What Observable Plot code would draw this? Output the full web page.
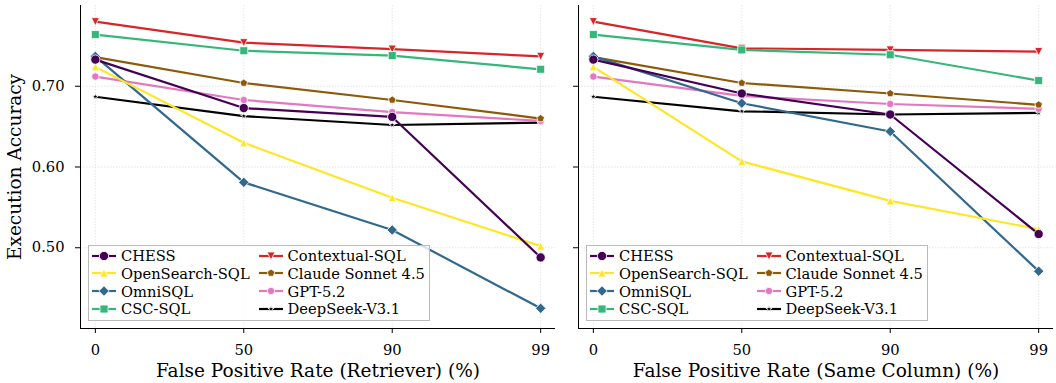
<!DOCTYPE html>
<html><head><meta charset="utf-8">
<script src="https://cdn.jsdelivr.net/npm/d3@7"></script>
<script src="https://cdn.jsdelivr.net/npm/@observablehq/plot@0.6"></script>
<style>
html,body{margin:0;padding:0;background:#fff;}
#chart{position:relative;width:1056px;height:383px;font-family:"DejaVu Serif",serif;overflow:hidden;}
.panel{position:absolute;top:0;}
.legend{position:absolute;border:1px solid #bbb;background:rgba(255,255,255,0.8);box-sizing:border-box;}
.item{position:absolute;height:18px;display:flex;align-items:center;font-size:14.7px;color:#000;white-space:nowrap;}
.item svg{margin-right:5px;overflow:visible;}
</style></head><body><div id="chart"></div>
<script>
// ---------- data ----------
const xTickLabels = ["0", "50", "90", "99"];
const seriesNames = ["CHESS", "OpenSearch-SQL", "OmniSQL", "CSC-SQL", "Contextual-SQL", "Claude Sonnet 4.5", "GPT-5.2", "DeepSeek-V3.1"];
const yTicks = [0.5, 0.6, 0.7];

// Panel 1: False Positive Rate (Retriever)
const retrieverCHESS      = [0.733, 0.673, 0.662, 0.488];
const retrieverOpenSearch = [0.724, 0.630, 0.562, 0.502];
const retrieverOmniSQL    = [0.737, 0.581, 0.522, 0.425];
const retrieverCSC        = [0.764, 0.744, 0.738, 0.721];
const retrieverContextual = [0.780, 0.754, 0.746, 0.737];
const retrieverClaude     = [0.736, 0.704, 0.683, 0.660];
const retrieverGPT        = [0.712, 0.683, 0.668, 0.657];
const retrieverDeepSeek   = [0.687, 0.663, 0.652, 0.655];

// Panel 2: False Positive Rate (Same Column)
const sameColCHESS      = [0.733, 0.691, 0.665, 0.517];
const sameColOpenSearch = [0.724, 0.607, 0.558, 0.523];
const sameColOmniSQL    = [0.737, 0.679, 0.644, 0.471];
const sameColCSC        = [0.764, 0.745, 0.739, 0.707];
const sameColContextual = [0.780, 0.747, 0.745, 0.743];
const sameColClaude     = [0.736, 0.704, 0.691, 0.677];
const sameColGPT        = [0.712, 0.688, 0.678, 0.672];
const sameColDeepSeek   = [0.687, 0.669, 0.665, 0.667];

const panelTitles = ["False Positive Rate (Retriever) (%)", "False Positive Rate (Same Column) (%)"];
const yTitle = "Execution Accuracy";

// ---------- styles ----------
const seriesColors = ["#440154", "#fde725", "#31688e", "#35b779", "#d62728", "#8c5a0a", "#e377c2", "#000000"];

const rad = s => Math.sqrt(s / Math.PI);
const symCircle = {draw(c, s){const r = rad(s); c.moveTo(r, 0); c.arc(0, 0, r, 0, 2 * Math.PI);}};
const symTriUp = {draw(c, s){const r = rad(s); c.moveTo(0, -r); c.lineTo(r, r); c.lineTo(-r, r); c.closePath();}};
const symTriDown = {draw(c, s){const r = rad(s); c.moveTo(0, r); c.lineTo(r, -r); c.lineTo(-r, -r); c.closePath();}};
const symDiamond = {draw(c, s){const r = rad(s); c.moveTo(0, -r); c.lineTo(r, 0); c.lineTo(0, r); c.lineTo(-r, 0); c.closePath();}};
const symSquare = {draw(c, s){const r = rad(s); c.rect(-r, -r, 2 * r, 2 * r);}};
const symPentagon = {draw(c, s){const r = rad(s); for (let i = 0; i < 5; i++){const a = -Math.PI / 2 + i * 2 * Math.PI / 5; i ? c.lineTo(r * Math.cos(a), r * Math.sin(a)) : c.moveTo(r * Math.cos(a), r * Math.sin(a));} c.closePath();}};
const symStar = {draw(c, s){const r = rad(s); for (let i = 0; i < 10; i++){const rr = i % 2 ? r * 0.382 : r; const a = -Math.PI / 2 + i * Math.PI / 5; i ? c.lineTo(rr * Math.cos(a), rr * Math.sin(a)) : c.moveTo(rr * Math.cos(a), rr * Math.sin(a));} c.closePath();}};
const seriesSymbols = [symCircle, symTriUp, symDiamond, symSquare, symTriDown, symPentagon, symCircle, symStar];
const seriesRadii = [4.6, 4.0, 5.2, 4.0, 4.0, 4.0, 3.7, 3.4];
const drawOrder = [7, 6, 5, 4, 3, 2, 1, 0];

const panelValues = [
  [retrieverCHESS, retrieverOpenSearch, retrieverOmniSQL, retrieverCSC, retrieverContextual, retrieverClaude, retrieverGPT, retrieverDeepSeek],
  [sameColCHESS, sameColOpenSearch, sameColOmniSQL, sameColCSC, sameColContextual, sameColClaude, sameColGPT, sameColDeepSeek]
];

const chart = document.getElementById("chart");
const panelGeom = [
  {left: 0, width: 556, marginLeft: 80, marginRight: 1},
  {left: 556, width: 500, marginLeft: 22, marginRight: 3}
];
const gridStyle = {stroke: "#c8c8c8", strokeOpacity: 0.6, strokeDasharray: "1.5,1.5", strokeWidth: 0.8};

panelGeom.forEach((g, p) => {
  const marks = [
    Plot.gridY({ticks: yTicks, ...gridStyle}),
    Plot.gridX({ticks: [0, 1, 2, 3], ...gridStyle})
  ];
  for (const k of drawOrder) {
    const data = panelValues[p][k].map((v, i) => ({i, v}));
    marks.push(Plot.line(data, {x: "i", y: "v", stroke: seriesColors[k], strokeWidth: 2.2}));
    marks.push(Plot.dot(data, {x: "i", y: "v", symbol: seriesSymbols[k], r: seriesRadii[k], fill: seriesColors[k], stroke: "white", strokeWidth: 0.8}));
  }
  marks.push(
    Plot.ruleX([-0.1], {stroke: "#000", strokeWidth: 1}),
    Plot.ruleY([0.40], {stroke: "#000", strokeWidth: 1}),
    Plot.axisX({ticks: [0, 1, 2, 3], tickFormat: i => xTickLabels[i], tickSize: 5, tickPadding: 11, label: null, fontSize: 14.7}),
    Plot.axisY({ticks: yTicks, tickFormat: p === 0 ? d3.format(".2f") : () => "", tickSize: 5, tickPadding: 11, label: null, fontSize: 14.7}),
    Plot.text([panelTitles[p]], {text: d => d, frameAnchor: "bottom", textAnchor: "middle", lineAnchor: "middle", dy: 43, fontSize: 18.5, fill: "#000"})
  );
  if (p === 0) marks.push(Plot.text([yTitle], {text: d => d, frameAnchor: "left", textAnchor: "middle", lineAnchor: "middle", dx: -65, rotate: -90, fontSize: 18.5, fill: "#000"}));
  const svg = Plot.plot({
    width: g.width, height: 383,
    marginLeft: g.marginLeft, marginRight: g.marginRight, marginTop: 5, marginBottom: 55,
    x: {domain: [-0.1, 3.1]},
    y: {domain: [0.40, 0.80]},
    style: {fontFamily: "DejaVu Serif", fontSize: "14.7px", color: "#000", background: "transparent", overflow: "visible"},
    marks
  });
  svg.classList.add("panel");
  svg.style.left = g.left + "px";
  chart.appendChild(svg);

  // legend
  const lg = document.createElement("div");
  lg.className = "legend";
  const boxLeft = g.left + g.marginLeft + 8;
  Object.assign(lg.style, {left: boxLeft + "px", top: "245px", width: "342px", height: "76px"});
  seriesNames.forEach((name, k) => {
    const col = Math.floor(k / 4), row = k % 4;
    const it = document.createElement("div");
    it.className = "item";
    it.style.left = (3 + col * 166.6) + "px";
    it.style.top = (10.5 + row * 17.8 - 9 - 1) + "px";
    const d = d3.symbol(seriesSymbols[k], Math.PI * seriesRadii[k] * seriesRadii[k])();
    it.innerHTML = `<svg width="24" height="12" viewBox="0 0 24 12"><line x1="0" y1="6" x2="24" y2="6" stroke="${seriesColors[k]}" stroke-width="2.2"/><path transform="translate(12,6)" d="${d}" fill="${seriesColors[k]}" stroke="white" stroke-width="0.8"/></svg><span>${name}</span>`;
    lg.appendChild(it);
  });
  chart.appendChild(lg);
});
</script></body></html>
